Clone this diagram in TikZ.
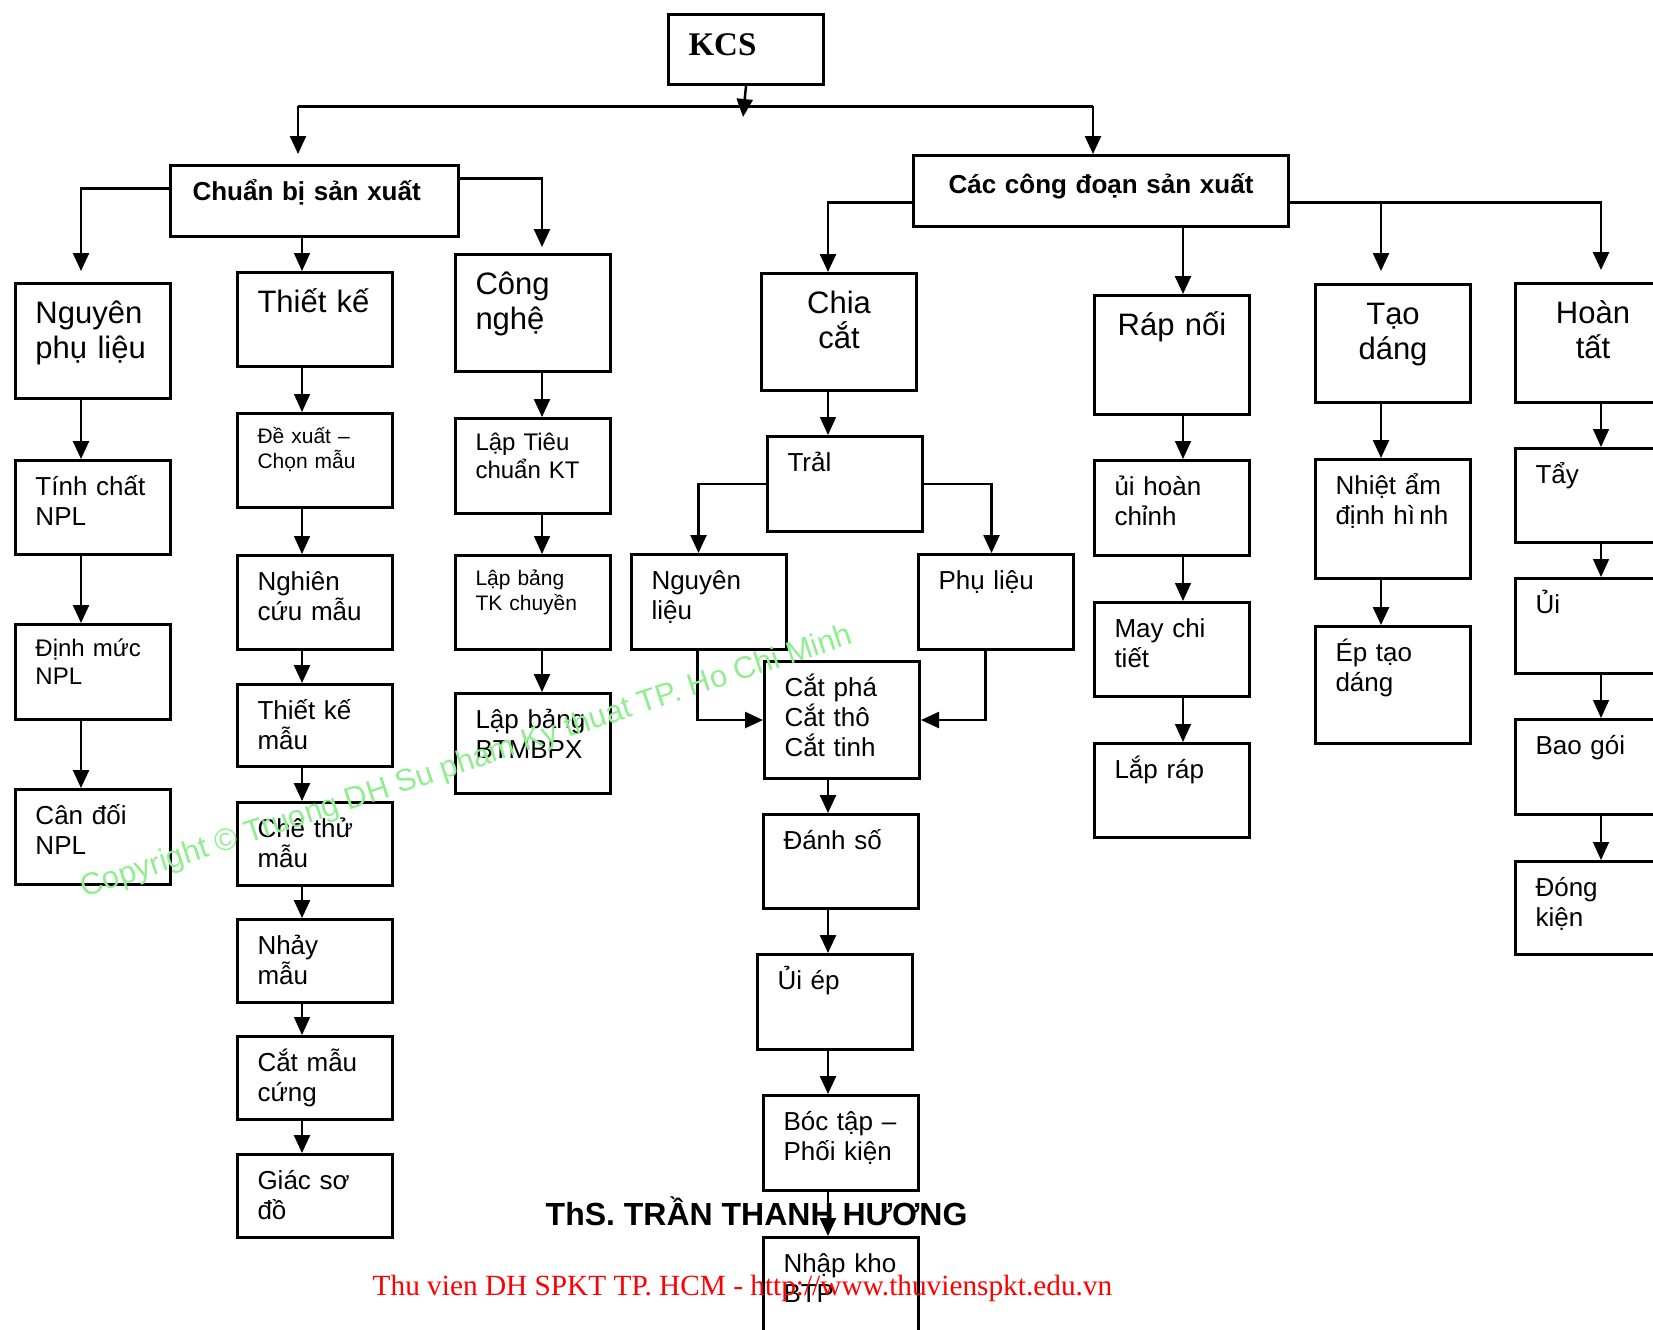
\documentclass[tikz,border=0pt]{standalone}
\usepackage{fontspec}
\setmainfont{Liberation Sans}
\newfontfamily\timesface{Liberation Serif}
\usepackage{tikz}
\usetikzlibrary{arrows.meta}

\definecolor{wmgreen}{RGB}{144,238,144}

\tikzset{
	box/.style={draw,line width=0.3mm,anchor=north west,inner xsep=2mm,inner ysep=0pt,
		text width=11.5mm,align=left,font=\fontsize{2.6mm}{3mm}\selectfont,
		/utils/exec=\def\tpad{3.5mm},text height=\tpad,text depth={#1*0.1mm-\tpad}},
	lg/.style={font=\fontsize{3.1mm}{3.5mm}\selectfont,/utils/exec=\def\tpad{4mm}},
	md/.style={font=\fontsize{2.4mm}{2.8mm}\selectfont,/utils/exec=\def\tpad{3.2mm}},
	sm/.style={font=\fontsize{2.1mm}{2.5mm}\selectfont,/utils/exec=\def\tpad{3mm}},
	hd/.style={font=\bfseries\fontsize{2.6mm}{3mm}\selectfont},
	ttl/.style={font=\timesface\bfseries\fontsize{3.3mm}{3.8mm}\selectfont,/utils/exec=\def\tpad{4.1mm}},
	ln/.style={line width=0.3mm},
	arr/.style={line width=0.25mm,-{Triangle[length=1.8mm,width=1.6mm]}},
	arrlt/.style={arr,line width=0.15mm},
}

\begin{document}
\begin{tikzpicture}[x=0.1mm,y=-0.1mm]
	\useasboundingbox (0,0) rectangle (1653,1329);
	\clip (0,0) rectangle (1653,1329);

	\coordinate (colA) at (81,0);
	\coordinate (colB) at (302,0);
	\coordinate (colC) at (542,0);
	\coordinate (colD) at (828,0);
	\coordinate (colE) at (1183,0);
	\coordinate (colF) at (1381,0);
	\coordinate (colG) at (1601,0);
	\coordinate (busL) at (298,106);
	\coordinate (busR) at (1093,106);
	\coordinate (kcsbus) at (743,117);

	\node[box=70,ttl]                                (kcs)        at (667,13)   {KCS};
	\node[box=71,hd,text width=24.4mm,inner xsep=2.2mm] (chuanbi) at (169,164)  {Chuẩn bị sản xuất};
	\node[box=71,hd,text width=33.5mm,align=center,/utils/exec=\def\tpad{3.8mm}] (congdoan) at (912,154) {Các công đoạn sản xuất};

	\node[box=115,lg]              (npl)        at (14,282)    {Nguyên\\phụ liệu};
	\node[box=94]                  (tinhchat)   at (14,459)    {Tính chất\\NPL};
	\node[box=95,md]               (dinhmuc)    at (14,623)    {Định mức\\NPL};
	\node[box=95]                  (candoi)     at (14,788)    {Cân đối\\NPL};

	\node[box=94,lg]               (thietke)    at (236,271)   {Thiết kế};
	\node[box=94,sm]               (dexuat)     at (236,412)   {Đề xuất –\\Chọn mẫu};
	\node[box=94]                  (nghiencuu)  at (236,554)   {Nghiên\\cứu mẫu};
	\node[box=82]                  (tkmau)      at (236,683)   {Thiết kế\\mẫu};
	\node[box=83]                  (chethu)     at (236,801)   {Chế thử\\mẫu};
	\node[box=83]                  (nhaymau)    at (236,918)   {Nhảy\\mẫu};
	\node[box=83]                  (catmau)     at (236,1035)  {Cắt mẫu\\cứng};
	\node[box=83]                  (giac)       at (236,1153)  {Giác sơ\\đồ};

	\node[box=117,lg]              (congnghe)   at (454,253)   {Công\\nghệ};
	\node[box=95,md]               (laptieu)    at (454,417)   {Lập Tiêu\\chuẩn KT};
	\node[box=94,sm]               (lapbangtk)  at (454,554)   {Lập bảng\\TK chuyền};
	\node[box=100]                 (lapbangbt)  at (454,692)   {Lập bảng\\BTMBPX};

	\node[box=117,lg,align=center] (chia)       at (760,272)   {Chia\\cắt};
	\node[box=95]                  (trai)       at (766,435)   {Trảl};
	\node[box=95]                  (nguyenlieu) at (630,553)   {Nguyên\\liệu};
	\node[box=95]                  (phulieu)    at (917,553)   {Phụ liệu};
	\node[box=117]                 (cat)        at (763,660)   {Cắt phá\\Cắt thô\\Cắt tinh};
	\node[box=94]                  (danhso)     at (762,813)   {Đánh số};
	\node[box=95]                  (uiep)       at (756,953)   {Ủi ép};
	\node[box=95]                  (boctap)     at (762,1094)  {Bóc tập –\\Phối kiện};
	\node[box=130]                 (nhapkho)    at (762,1236)  {Nhập kho\\BTP};

	\node[box=119,lg,align=center] (rapnoi)     at (1093,294)  {Ráp nối};
	\node[box=95]                  (uihoan)     at (1093,459)  {ủi hoàn\\chỉnh};
	\node[box=94]                  (maychi)     at (1093,601)  {May chi\\tiết};
	\node[box=94]                  (laprap)     at (1093,742)  {Lắp ráp};

	\node[box=118,lg,align=center] (taodang)    at (1314,283)  {Tạo\\dáng};
	\node[box=119]                 (nhietam)    at (1314,458)  {Nhiệt ẩm\\định hì\,nh};
	\node[box=117]                 (eptao)      at (1314,625)  {Ép tạo\\dáng};

	\node[box=119,lg,align=center] (hoantat)    at (1514,282)  {Hoàn\\tất};
	\node[box=94]                  (tay)        at (1514,447)  {Tẩy};
	\node[box=95]                  (ui)         at (1514,577)  {Ủi};
	\node[box=95]                  (baogoi)     at (1514,718)  {Bao gói};
	\node[box=93]                  (dongkien)   at (1514,860)  {Đóng\\kiện};

	\draw[ln] (busL) -- (busR);
	\draw[arr] (kcs.south) -- (kcsbus);
	\draw[arr,shorten >=1mm] (busL) -- (busL |- chuanbi.north);
	\draw[arr] (busR) -- (busR |- congdoan.north);

	\draw[arr,shorten >=1.1mm] ([yshift=1.25mm]chuanbi.west) -| (colA |- npl.north);
	\draw[arrlt] (colB |- chuanbi.south) -- (colB |- thietke.north);
	\draw[arr,shorten >=0.6mm] ([yshift=2.25mm]chuanbi.east) -| (colC |- congnghe.north);

	\draw[arr] ([yshift=-1.15mm]congdoan.west) -| (colD |- chia.north);
	\draw[arr] (colE |- congdoan.south) -- (colE |- rapnoi.north);
	\coordinate (cdR) at ([yshift=-1.15mm]congdoan.east);
	\draw[arr,shorten >=1.2mm] (cdR) -| (colG |- hoantat.north);
	\draw[arr,shorten >=1.2mm] (cdR -| colF) -- (colF |- taodang.north);

	\foreach \a/\b in {npl/tinhchat,tinhchat/dinhmuc,dinhmuc/candoi}
		\draw[arr] (colA |- \a.south) -- (colA |- \b.north);
	\foreach \a/\b/\s in {thietke/dexuat/arrlt,dexuat/nghiencuu/arrlt,nghiencuu/tkmau/arr,tkmau/chethu/arr,
		chethu/nhaymau/arr,nhaymau/catmau/arrlt,catmau/giac/arr}
		\draw[\s] (colB |- \a.south) -- (colB |- \b.north);
	\foreach \a/\b/\s in {congnghe/laptieu/arr,laptieu/lapbangtk/arrlt,lapbangtk/lapbangbt/arr}
		\draw[\s] (colC |- \a.south) -- (colC |- \b.north);
	\foreach \a/\b/\s in {chia/trai/arrlt,cat/danhso/arr,danhso/uiep/arr,uiep/boctap/arr,boctap/nhapkho/arr}
		\draw[\s] (colD |- \a.south) -- (colD |- \b.north);
	\foreach \a/\b in {rapnoi/uihoan,uihoan/maychi,maychi/laprap}
		\draw[arrlt] (colE |- \a.south) -- (colE |- \b.north);
	\foreach \a/\b in {taodang/nhietam,nhietam/eptao}
		\draw[arr] (colF |- \a.south) -- (colF |- \b.north);
	\foreach \a/\b in {hoantat/tay,tay/ui,ui/baogoi,baogoi/dongkien}
		\draw[arrlt] (colG |- \a.south) -- (colG |- \b.north);

	\draw[arr] (trai.west) -| ([xshift=-1.05mm]nguyenlieu.north);
	\draw[arr] (trai.east) -| ([xshift=-0.45mm]phulieu.north);
	\draw[arr] ([xshift=-1.15mm]nguyenlieu.south) |- (cat.west);
	\draw[arr] ([xshift=-1.05mm]phulieu.south) |- (cat.east);

	\node[anchor=base west,inner sep=0pt,font=\bfseries\fontsize{3.2mm}{3.8mm}\selectfont] (author) at (545,1225) {ThS. TRẦN THANH HƯƠNG};
	\node[anchor=base west,inner sep=0pt,text=wmgreen,rotate=18.3,font=\fontsize{3.1mm}{3.6mm}\selectfont] (copyright) at (84,898) {Copyright © Truong DH Su pham Ky thuat TP. Ho Chi Minh};
	\node[anchor=base west,inner sep=0pt,text=red,font=\timesface\fontsize{2.93mm}{3.4mm}\selectfont] (footer) at (372,1295) {Thu vien DH SPKT TP. HCM - http://www.thuvienspkt.edu.vn};
\end{tikzpicture}
\end{document}
